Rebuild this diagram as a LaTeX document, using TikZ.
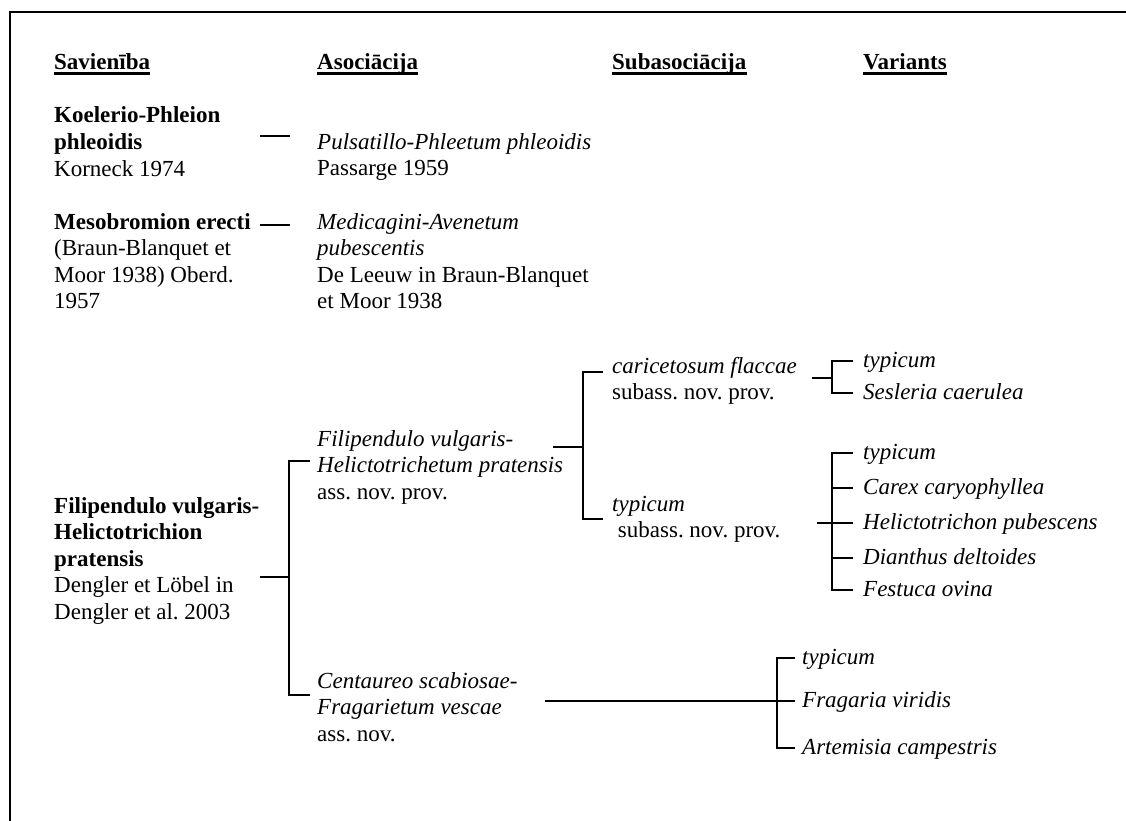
\documentclass[tikz,border=0pt]{standalone}
\usepackage{fontspec}
\setmainfont{Liberation Serif}
\usepackage{tikz}
\tikzstyle{colhead}=[anchor=base west,inner sep=0pt,font=\bfseries]
% multi-line nodes sit on the baseline of their last line
\tikzstyle{taxon}=[anchor=base west,inner sep=0pt,align=left]
\tikzstyle{variant}=[anchor=west,inner xsep=10pt,inner ysep=0pt,text height=1.5ex,text depth=.25ex,font=\itshape]
\tikzstyle{branch}=[line width=2pt]
\tikzstyle{uline}=[line width=2.5pt]

\begin{document}
\fontsize{23}{26.5}\selectfont\frenchspacing
\begin{tikzpicture}[x=1pt,y=-1pt]
\useasboundingbox (0,0) rectangle (1126,821);
\draw[line width=1.5pt] (1126,12) -- (10,12) -- (10,821);

% column heads
\node[colhead] (h1) at (54,70) {Savienība};
\node[colhead] (h2) at (317,70) {Asociācija};
\node[colhead] (h3) at (612,70) {Subasociācija};
\node[colhead] (h4) at (863,70) {Variants};
\foreach \h in {h1,h2,h3,h4}
  \draw[uline] ([yshift=-3.5pt]\h.base west) -- ([yshift=-3.5pt]\h.base east);

% alliances
\node[taxon] (all1) at (54,176) {\textbf{Koelerio-Phleion}\\\textbf{phleoidis}\\Korneck 1974};
\node[taxon] (all2) at (54,308.5) {\textbf{Mesobromion erecti}\\(Braun-Blanquet et\\Moor 1938) Oberd.\\1957};
\node[taxon] (all3) at (54,619) {\textbf{Filipendulo vulgaris-}\\\textbf{Helictotrichion}\\\textbf{pratensis}\\Dengler et Löbel in\\Dengler et al. 2003};

% associations
\node[taxon] (as1) at (317,175.5) {\textit{Pulsatillo-Phleetum phleoidis}\\Passarge 1959};
\node[taxon] (as2) at (317,308.5) {\textit{Medicagini-Avenetum}\\\textit{pubescentis}\\De Leeuw in Braun-Blanquet\\et Moor 1938};
\node[taxon] (as3) at (317,499) {\textit{Filipendulo vulgaris-}\\\textit{Helictotrichetum pratensis}\\ass. nov. prov.};
\node[taxon] (as4) at (317,741) {\textit{Centaureo scabiosae-}\\\textit{Fragarietum vescae}\\ass. nov.};

% subassociations
\node[taxon] (sub1) at (612,399.5) {\textit{caricetosum flaccae}\\subass. nov. prov.};
\node[taxon] (sub2) at (612,537.5) {\textit{typicum}\\\ subass. nov. prov.};

% variants
\node[variant] (v11) at (853,361) {typicum};
\node[variant] (v12) at (853,393) {Sesleria caerulea};
\node[variant] (v21) at (853,453) {typicum};
\node[variant] (v22) at (853,488) {Carex caryophyllea};
\node[variant] (v23) at (853,523) {Helictotrichon pubescens};
\node[variant] (v24) at (853,558) {Dianthus deltoides};
\node[variant] (v25) at (853,590) {Festuca ovina};
\node[variant,inner xsep=7pt] (v31) at (795,658) {typicum};
\node[variant,inner xsep=7pt] (v32) at (795,701) {Fragaria viridis};
\node[variant,inner xsep=7pt] (v33) at (795,748) {Artemisia campestris};

% branch points
\coordinate (d1a) at (260,136); \coordinate (d1b) at (290,136);
\coordinate (d2a) at (260,225); \coordinate (d2b) at (290,225);
\coordinate (sa) at (260,577); \coordinate (ja) at (289,577);
\coordinate (ta1) at (310,461); \coordinate (ta2) at (310,695);
\coordinate (ss) at (553,447); \coordinate (js) at (583,447);
\coordinate (ts1) at (603,372); \coordinate (ts2) at (603,519);
\coordinate (sv1) at (812,378); \coordinate (jv1) at (832,378);
\coordinate (sv2) at (817,523); \coordinate (jv2) at (832,523);
\coordinate (sv3) at (545,701); \coordinate (jv3) at (777,701);

\draw[branch] (d1a) -- (d1b);
\draw[branch] (d2a) -- (d2b);
\draw[branch] (sa) -- (ja);
\draw[branch] (ta1) -| (ja);
\draw[branch] (ta2) -| (ja);
\draw[branch] (ss) -- (js);
\draw[branch] (ts1) -| (js);
\draw[branch] (ts2) -| (js);
\draw[branch] (sv1) -- (jv1);
\foreach \v in {v11,v12} \draw[branch] (\v.west) -| (jv1);
\draw[branch] (sv2) -- (jv2);
\foreach \v in {v21,v22,v23,v24,v25} \draw[branch] (\v.west) -| (jv2);
\draw[branch] (sv3) -- (jv3);
\foreach \v in {v31,v32,v33} \draw[branch] (\v.west) -| (jv3);

\end{tikzpicture}
\end{document}
